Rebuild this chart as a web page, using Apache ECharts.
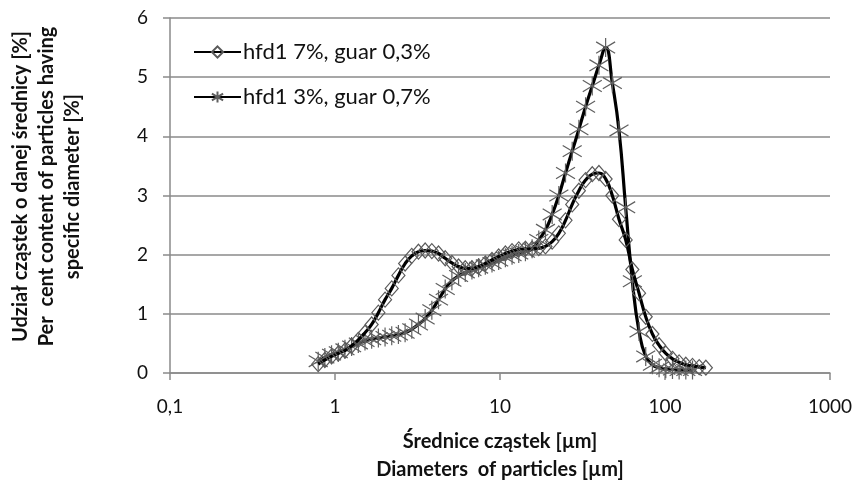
<!DOCTYPE html>
<html>
<head>
<meta charset="utf-8">
<script src="https://cdn.jsdelivr.net/npm/echarts@6/dist/echarts.min.js"></script>
<style>
html, body { margin: 0; padding: 0; background: #fff; }
#chartPsd { width: 858px; height: 495px; }
</style>
</head>
<body>
<div id="chartPsd"></div>
<script>
// channel diameters [µm]
var diameters = [0.791, 0.868, 0.953, 1.047, 1.149, 1.261, 1.385, 1.520, 1.668, 1.832,
    2.011, 2.207, 2.423, 2.660, 2.920, 3.205, 3.519, 3.863, 4.240, 4.655,
    5.110, 5.610, 6.158, 6.760, 7.421, 8.147, 8.943, 9.817, 10.78, 11.83,
    12.99, 14.26, 15.65, 17.18, 18.86, 20.71, 22.73, 24.95, 27.39, 30.07,
    33.01, 36.24, 39.78, 43.67, 47.94, 52.62, 57.77, 63.41, 69.61, 76.42,
    83.89, 92.09, 101.1, 111.0, 121.8, 133.7, 146.8, 161.2, 176.9];

// hfd1 7%, guar 0,3%
var diamondVals = [0.15, 0.22, 0.28, 0.33, 0.38, 0.46, 0.56, 0.68, 0.82, 1.02,
    1.24, 1.43, 1.65, 1.85, 1.98, 2.05, 2.07, 2.06, 2.02, 1.94,
    1.86, 1.80, 1.77, 1.77, 1.80, 1.85, 1.91, 1.97, 2.02, 2.06,
    2.09, 2.10, 2.10, 2.11, 2.14, 2.22, 2.36, 2.58, 2.85, 3.08,
    3.26, 3.36, 3.38, 3.28, 3.00, 2.60, 2.25, 1.75, 1.35, 0.95,
    0.66, 0.47, 0.33, 0.24, 0.18, 0.14, 0.12, 0.10, 0.09];

// hfd1 3%, guar 0,7%
var asteriskVals = [0.20, 0.26, 0.31, 0.35, 0.40, 0.45, 0.50, 0.54, 0.57, 0.59,
    0.61, 0.63, 0.65, 0.68, 0.74, 0.82, 0.92, 1.06, 1.24, 1.42,
    1.56, 1.64, 1.70, 1.74, 1.78, 1.82, 1.86, 1.90, 1.95, 1.99,
    2.02, 2.05, 2.10, 2.25, 2.42, 2.68, 3.00, 3.38, 3.75, 4.12,
    4.50, 4.85, 5.20, 5.50, 4.90, 4.10, 2.80, 1.55, 0.70, 0.28,
    0.14, 0.09, 0.07, 0.06, 0.05, 0.05, 0.05];

var seriesNames = ['hfd1 7%, guar 0,3%', 'hfd1 3%, guar 0,7%'];
var xTickLabels = {0.1: '0,1', 1: '1', 10: '10', 100: '100', 1000: '1000'};

function pairs(vals) {
    var out = [];
    for (var i = 0; i < vals.length; i++) {
        out.push([diameters[i], vals[i]]);
    }
    return out;
}

var asteriskPath = 'path://M10,0L10,20M0,4L20,16M0,16L20,4';
var fontFam = 'Lato, "Noto Sans", sans-serif';

var myChart = echarts.init(document.getElementById('chartPsd'));
var option = {
    backgroundColor: '#fff',
    animation: false,
    textStyle: { fontFamily: fontFam },
    grid: { left: 169, right: 28, top: 18, bottom: 122 },
    legend: {
        orient: 'vertical',
        left: 188,
        top: 35,
        itemWidth: 47,
        itemHeight: 14,
        itemGap: 21,
        data: seriesNames,
        textStyle: { color: '#111', fontSize: 22, lineHeight: 24, fontFamily: fontFam, padding: [0, 0, 0, -3] }
    },
    xAxis: {
        type: 'log',
        logBase: 10,
        min: 0.1,
        max: 1000,
        name: 'Średnice cząstek [µm]\nDiameters  of particles [µm]',
        nameLocation: 'middle',
        nameGap: 55,
        nameTextStyle: { fontSize: 20, fontWeight: 'bold', color: '#111', lineHeight: 28, fontFamily: fontFam },
        axisLine: { show: true, lineStyle: { color: '#8a8a8a', width: 1.5 } },
        axisTick: { show: true, length: 7, lineStyle: { color: '#8a8a8a', width: 1.5 } },
        minorTick: { show: false },
        splitLine: { show: false },
        axisLabel: {
            margin: 24,
            fontSize: 19,
            color: '#111',
            formatter: function (v) { return xTickLabels[v] !== undefined ? xTickLabels[v] : ''; }
        }
    },
    yAxis: {
        type: 'value',
        min: 0,
        max: 6,
        interval: 1,
        name: 'Udział cząstek o danej średnicy [%]\nPer  cent content of particles having\nspecific diameter [%]',
        nameLocation: 'middle',
        nameGap: 84,
        nameTextStyle: { fontSize: 20, fontWeight: 'bold', color: '#111', lineHeight: 26, align: 'center', fontFamily: fontFam, padding: [0, 0, 0, 18] },
        axisLine: { show: true, lineStyle: { color: '#8a8a8a', width: 1.5 } },
        axisTick: { show: true, length: 7, lineStyle: { color: '#8a8a8a', width: 1.5 } },
        splitLine: { show: true, lineStyle: { color: '#8a8a8a', width: 1.5 } },
        axisLabel: { margin: 22, fontSize: 19, color: '#111' }
    },
    series: [
        {
            name: seriesNames[0],
            type: 'line',
            smooth: true,
            symbol: 'diamond',
            symbolSize: [13, 15],
            showAllSymbol: true,
            lineStyle: { color: '#000', width: 3.2 },
            itemStyle: { color: 'rgba(255,255,255,0)', borderColor: '#5a5a5a', borderWidth: 1.2 },
            z: 3,
            data: pairs(diamondVals)
        },
        {
            name: seriesNames[1],
            type: 'line',
            smooth: true,
            symbol: asteriskPath,
            symbolSize: 19,
            showAllSymbol: true,
            lineStyle: { color: '#000', width: 3.2 },
            itemStyle: { color: 'rgba(255,255,255,0)', borderColor: '#606060', borderWidth: 1.2 },
            z: 2,
            data: pairs(asteriskVals)
        }
    ]
};
myChart.setOption(option);
window.onresize = function () {
    myChart.resize();
};
</script>
</body>
</html>
